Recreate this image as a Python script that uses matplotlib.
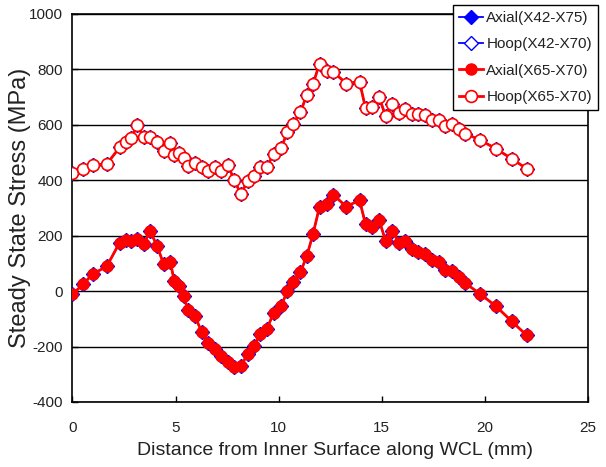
import matplotlib
matplotlib.use("Agg")
import matplotlib.pyplot as plt
import matplotlib.font_manager as fm

distance = [0, 0.5, 0.98, 1.66, 2.29, 2.58, 2.84, 3.15, 3.45, 3.76, 4.1, 4.42, 4.75, 4.93, 5.15,
            5.39, 5.6, 5.94, 6.26, 6.59, 6.89, 7.22, 7.55, 7.83, 8.17, 8.49, 8.82, 9.11, 9.43, 9.75,
            10.11, 10.42, 10.69, 11.05, 11.37, 11.66, 11.98, 12.32, 12.64, 13.28, 13.92, 14.21, 14.53,
            14.87, 15.18, 15.5, 15.83, 16.13, 16.47, 16.78, 17.1, 17.44, 17.76, 18.07, 18.4, 18.72,
            19.04, 19.78, 20.54, 21.3, 22.03]

hoop_x65 = [425, 441, 453, 458, 518, 538, 551, 597, 554, 555,
            536, 506, 535, 490, 497, 481, 451, 460, 446, 433,
            446, 432, 455, 400, 351, 396, 414, 446, 448, 494,
            515, 572, 602, 645, 707, 745, 820, 795, 791, 748,
            755, 660, 664, 699, 632, 676, 642, 655, 639, 638,
            633, 618, 616, 594, 601, 584, 568, 544, 513, 477, 441]

axial_x65 = [-12, 24, 61, 89, 175, 185, 181, 187, 168, 216,
             164, 97, 104, 37, 20, -19, -67, -91, -146, -187,
             -208, -234, -257, -275, -270, -228, -198, -154, -137, -79,
             -55, -1, 31, 67, 128, 204, 304, 314, 348, 304,
             328, 241, 232, 256, 182, 218, 175, 180, 151, 142,
             134, 113, 106, 77, 71, 49, 29, -11, -55, -109, -160]

hoop_x42 = list(hoop_x65)
axial_x42 = list(axial_x65)

labels = ["Axial(X42-X75)", "Hoop(X42-X70)", "Axial(X65-X70)", "Hoop(X65-X70)"]
xticks = [0, 5, 10, 15, 20, 25]
yticks = [-400, -200, 0, 200, 400, 600, 800, 1000]

plt.rcParams["axes.unicode_minus"] = False

installed = {f.name for f in fm.fontManager.ttflist}
if "Liberation Sans Narrow" in installed:
    nfam = ["Liberation Sans Narrow", "DejaVu Sans"]
    tick_fs, leg_fs, xl_fs = 12.5, 13, 17
else:
    nfam = ["Liberation Sans", "DejaVu Sans"]
    tick_fs, leg_fs, xl_fs = 11, 11, 14
regfam = ["Liberation Sans", "DejaVu Sans"]
txtcol = "#222222"

fig = plt.figure(figsize=(6.06, 4.67), dpi=100)
ax = fig.add_axes([0.1196, 0.1392, 0.8507, 0.8315])

ax.plot(distance, axial_x42, color="blue", lw=1.3, marker="D", ms=7.5,
        mfc="blue", mec="blue", label=labels[0], zorder=3)
ax.plot(distance, hoop_x42, color="blue", lw=1.3, marker="D", ms=7.5,
        mfc="white", mec="blue", mew=1.0, label=labels[1], zorder=3)
ax.plot(distance, axial_x65, color="red", lw=2.0, marker="o", ms=8,
        mfc="red", mec="red", label=labels[2], zorder=4)
ax.plot(distance, hoop_x65, color="red", lw=2.0, marker="o", ms=8.5,
        mfc="white", mec="red", mew=1.2, label=labels[3], zorder=4)

ax.set_xlim(0, 25)
ax.set_ylim(-400, 1000)
ax.set_xticks(xticks)
ax.set_yticks(yticks)
ax.yaxis.grid(True, color="black", lw=1.0)
ax.set_axisbelow(True)
for s in ax.spines.values():
    s.set_linewidth(1.2)
ax.tick_params(direction="in", length=4, width=1)
ax.tick_params(axis="x", pad=14)
ax.tick_params(axis="y", pad=7)
for lab in ax.get_xticklabels() + ax.get_yticklabels():
    lab.set_family(nfam)
    lab.set_fontsize(tick_fs)
    lab.set_color(txtcol)

ax.set_xlabel("Distance from Inner Surface along WCL (mm)", family=nfam,
              fontsize=xl_fs, color=txtcol)
ax.xaxis.set_label_coords(0.51, -0.103)
ax.set_ylabel("Steady State Stress (MPa)", family=regfam,
              fontsize=17, color=txtcol)
ax.yaxis.set_label_coords(-0.081, 0.5)

leg = fig.legend(loc="upper right", bbox_to_anchor=(0.987, 0.989),
                 bbox_transform=fig.transFigure, borderaxespad=0,
                 prop={"family": nfam, "size": leg_fs}, handlelength=1.6,
                 handletextpad=0.2, labelspacing=0.8, borderpad=0.4,
                 fancybox=False, framealpha=1, edgecolor="black")
leg.get_frame().set_linewidth(1.0)
for t in leg.get_texts():
    t.set_color(txtcol)

fig.savefig("out.png", dpi=100)
